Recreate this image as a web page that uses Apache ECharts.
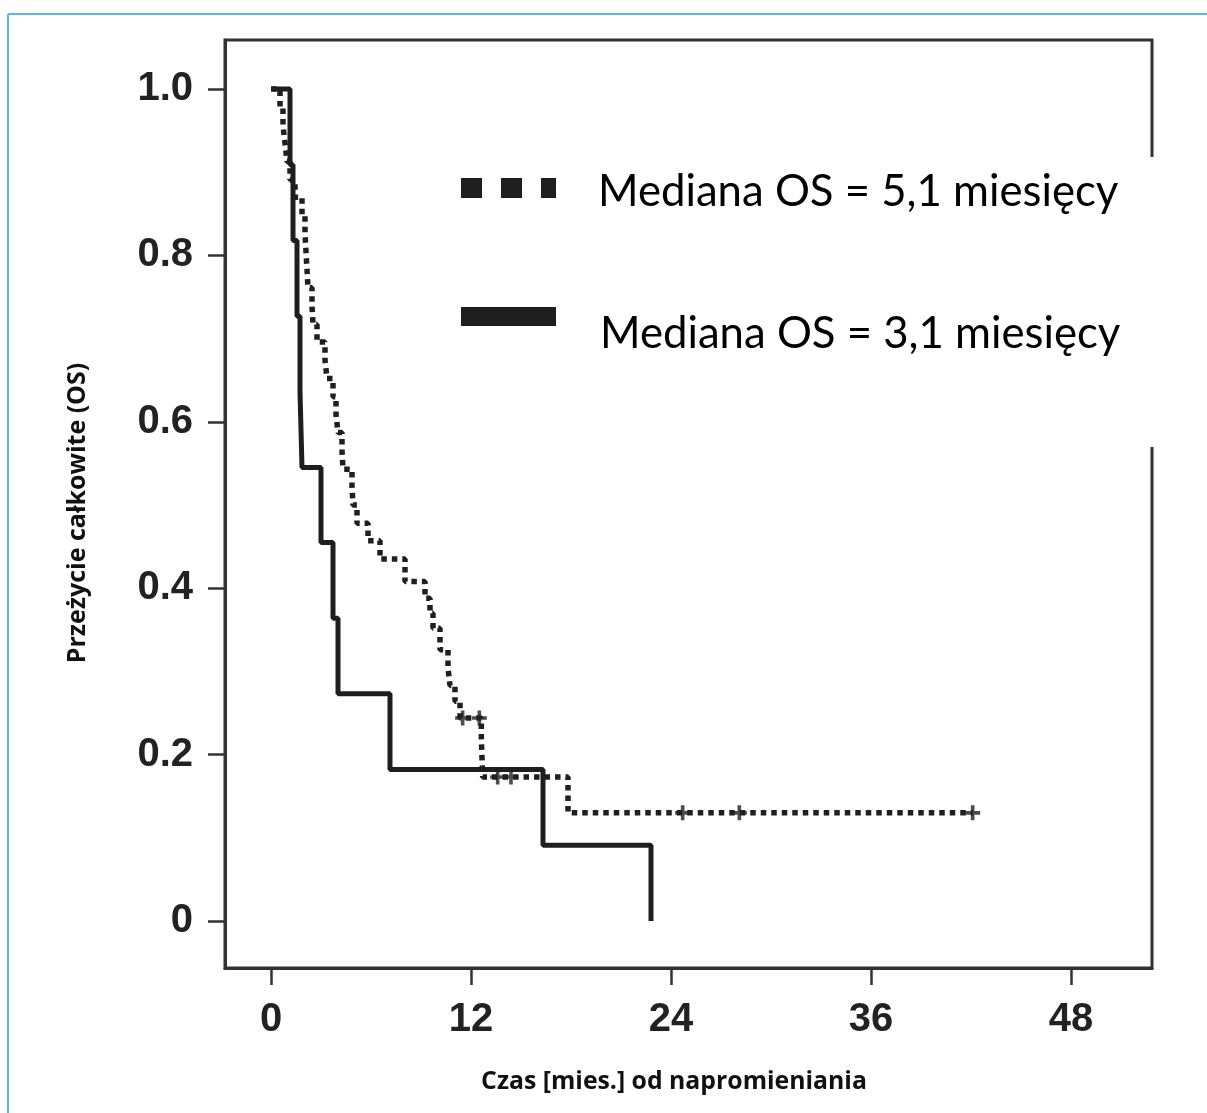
<!DOCTYPE html>
<html>
<head>
<meta charset="utf-8">
<script src="https://cdn.jsdelivr.net/npm/echarts@6/dist/echarts.min.js"></script>
<style>
html,body{margin:0;padding:0;background:#fff;}
#chart{width:1207px;height:1113px;}
</style>
</head>
<body>
<div id="chart"></div>
<script>
// ---- data (months, survival probability) ----
var xTicks = [0, 12, 24, 36, 48];
var yTicks = [0, 0.2, 0.4, 0.6, 0.8, 1.0];

// Group "Mediana OS = 5,1 miesięcy" (dotted)
var dottedTimes = [0, 0.54, 0.72, 0.84, 0.96, 1.14, 1.44, 1.86, 2.04, 2.16, 2.22, 2.46, 2.52, 2.76, 3.24, 3.36, 3.72, 3.90, 4.02, 4.26, 4.32, 4.86, 4.92, 5.16, 5.82, 6.54, 8.04, 9.24, 9.54, 9.72, 10.14, 10.62, 10.74, 11.04, 11.34, 12.62, 12.66, 12.70, 17.82, 42.1];
var dottedSurv  = [1.0, 0.978, 0.956, 0.935, 0.913, 0.891, 0.870, 0.848, 0.826, 0.783, 0.761, 0.739, 0.717, 0.696, 0.674, 0.652, 0.630, 0.609, 0.587, 0.565, 0.543, 0.522, 0.500, 0.478, 0.457, 0.435, 0.408, 0.388, 0.370, 0.352, 0.326, 0.304, 0.283, 0.264, 0.244, 0.220, 0.196, 0.173, 0.130, 0.130];
var dottedCensorTimes = [11.5, 12.5, 13.6, 14.4, 24.7, 28.1, 42.1];
var dottedCensorSurv  = [0.244, 0.244, 0.173, 0.173, 0.130, 0.130, 0.130];

// Group "Mediana OS = 3,1 miesięcy" (solid)
var solidTimes = [0.1, 1.14, 1.32, 1.56, 1.74, 1.86, 3.0, 3.72, 4.02, 7.14, 16.32, 22.8];
var solidSurv  = [1.0, 0.909, 0.818, 0.727, 0.636, 0.545, 0.455, 0.364, 0.273, 0.182, 0.091, 0.0];

var legendLabels = ['Mediana OS = 5,1 miesięcy', 'Mediana OS = 3,1 miesięcy'];
var xTitle = 'Czas [mies.] od napromieniania';
var yTitle = 'Przeżycie całkowite (OS)';

function pairs(xs, ys){ var o=[]; for(var i=0;i<xs.length;i++) o.push([xs[i], ys[i]]); return o; }

var plusPath = 'path://M3.8,0h2.4v3.8h3.8v2.4h-3.8v3.8h-2.4v-3.8h-3.8v-2.4h3.8z';
var ink = '#1f1f1f';

var chart = echarts.init(document.getElementById('chart'), null, {renderer:'canvas'});
chart.setOption({
  animation: false,
  backgroundColor: '#fff',
  grid: {
    left: 225, right: 55, top: 40, bottom: 145,
    show: true, borderColor: '#333', borderWidth: 3,
    outerBoundsMode: 'none'
  },
  xAxis: {
    type: 'value',
    min: -2.76, max: 52.86,
    axisLine: {show: true, onZero: false, lineStyle: {color: '#333', width: 3}},
    axisTick: {show: true, customValues: xTicks, length: 17, lineStyle: {color: '#333', width: 2.5}},
    axisLabel: {show: true, customValues: xTicks, margin: 32,
      fontFamily: 'Liberation Sans', fontWeight: 'bold', fontSize: 40, color: '#222'},
    splitLine: {show: false}
  },
  yAxis: {
    type: 'value',
    min: -0.0565, max: 1.0589,
    axisLine: {show: true, onZero: false, lineStyle: {color: '#333', width: 3}},
    axisTick: {show: true, customValues: yTicks, length: 17, lineStyle: {color: '#333', width: 2.5}},
    axisLabel: {show: true, customValues: yTicks, margin: 32,
      fontFamily: 'Liberation Sans', fontWeight: 'bold', fontSize: 40, color: '#222',
      formatter: function(v){ return Math.abs(v) < 1e-9 ? '0' : v.toFixed(1); }},
    splitLine: {show: false}
  },
  series: [
    {
      name: legendLabels[0], type: 'line', step: 'end', showSymbol: false,
      data: pairs(dottedTimes, dottedSurv),
      lineStyle: {color: ink, width: 5.5, type: [5.5, 5], cap: 'butt'},
      z: 3
    },
    {
      name: legendLabels[1], type: 'line', step: 'end', showSymbol: false,
      data: pairs(solidTimes, solidSurv),
      lineStyle: {color: '#1e1e1e', width: 5},
      z: 4
    },
    {
      type: 'scatter', symbol: plusPath, symbolSize: 15,
      data: pairs(dottedCensorTimes, dottedCensorSurv),
      itemStyle: {color: ink}, z: 5
    }
  ],
  graphic: [
    // outer light-blue frame
    {type: 'line', z: 100, shape: {x1: 8, y1: 14, x2: 1207, y2: 14}, style: {stroke: '#5bb8e6', lineWidth: 2}},
    {type: 'line', z: 100, shape: {x1: 8, y1: 14, x2: 8, y2: 1113}, style: {stroke: '#5bb8e6', lineWidth: 2}},
    // white legend panel
    {type: 'rect', z: 50, shape: {x: 440, y: 157, width: 735, height: 290}, style: {fill: '#fff'}},
    // legend markers
    {type: 'rect', z: 60, shape: {x: 461, y: 178, width: 21, height: 20}, style: {fill: '#1e1e1e'}},
    {type: 'rect', z: 60, shape: {x: 501, y: 178, width: 21, height: 20}, style: {fill: '#1e1e1e'}},
    {type: 'rect', z: 60, shape: {x: 541, y: 178, width: 15, height: 20}, style: {fill: '#1e1e1e'}},
    {type: 'rect', z: 60, shape: {x: 461, y: 307, width: 95, height: 19}, style: {fill: '#1e1e1e'}},
    {type: 'text', z: 60, x: 598, y: 192, style: {text: legendLabels[0], fontFamily: 'Lato', fontSize: 43.7, fill: '#000', verticalAlign: 'middle', align: 'left'}},
    {type: 'text', z: 60, x: 600, y: 334, style: {text: legendLabels[1], fontFamily: 'Lato', fontSize: 43.7, fill: '#000', verticalAlign: 'middle', align: 'left'}},
    // axis titles
    {type: 'text', z: 60, x: 674, y: 1082, style: {text: xTitle, fontFamily: 'Open Sans', fontWeight: 'bold', fontSize: 24.8, fill: '#111', align: 'center', verticalAlign: 'middle'}},
    {type: 'text', z: 60, x: 78, y: 513, rotation: Math.PI/2, style: {text: yTitle, fontFamily: 'Open Sans', fontWeight: 'bold', fontSize: 25, fill: '#111', align: 'center', verticalAlign: 'middle'}}
  ]
});
</script>
</body>
</html>
